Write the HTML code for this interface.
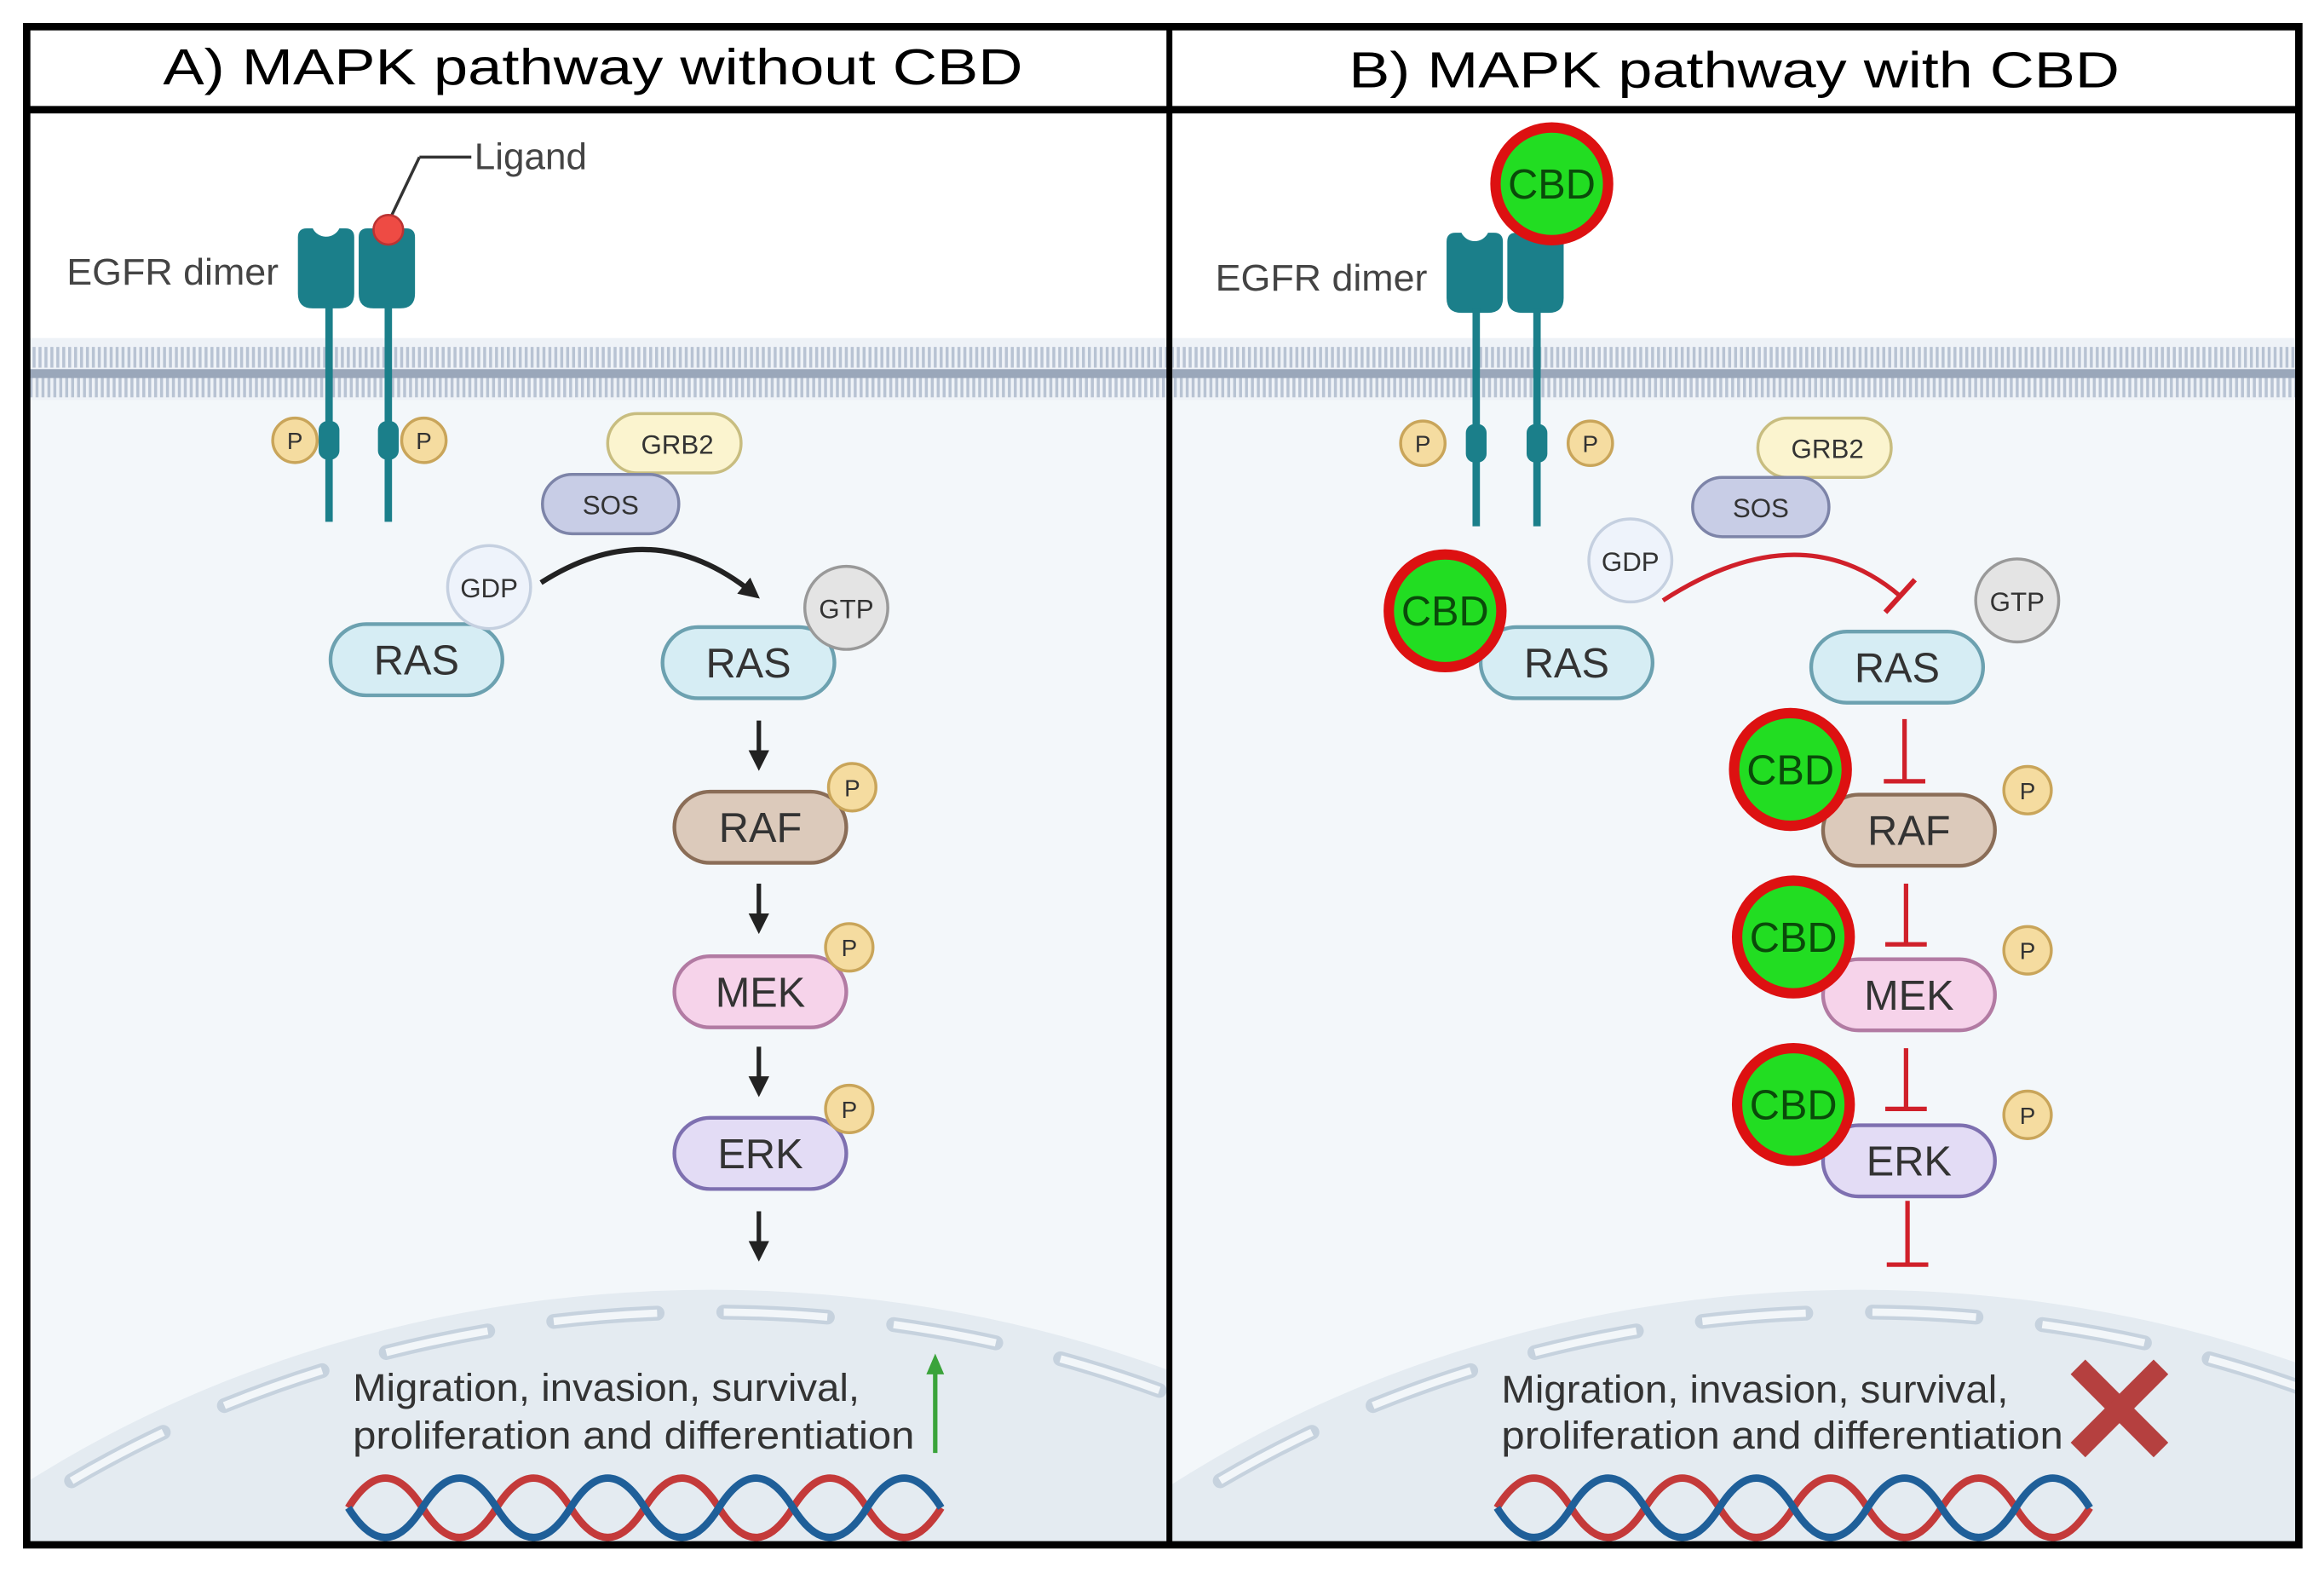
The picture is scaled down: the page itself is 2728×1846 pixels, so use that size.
<!DOCTYPE html>
<html><head><style>html,body{margin:0;padding:0;background:#fff;width:2728px;height:1846px;overflow:hidden}svg{display:block}</style></head><body>
<svg width="2728" height="1846" viewBox="0 0 1568 1061" preserveAspectRatio="none" xmlns="http://www.w3.org/2000/svg" font-family="Liberation Sans, sans-serif">
<defs>
<clipPath id="ca"><rect x="19" y="76" width="769" height="965"/></clipPath>
<clipPath id="cb"><rect x="791" y="76" width="759" height="965"/></clipPath>
<pattern id="mem" width="4" height="42" patternUnits="userSpaceOnUse"><rect width="4" height="42" fill="#eef2f7"/><rect x="0" y="2" width="2" height="14" fill="#b8c3d3"/><rect x="2" y="24" width="2" height="14" fill="#b8c3d3"/><rect width="4" height="3" fill="#9aa7ba"/><rect y="39" width="4" height="3" fill="#9aa7ba"/></pattern>
<marker id="ah" markerWidth="14" markerHeight="14" refX="8" refY="7" orient="auto" markerUnits="userSpaceOnUse"><path d="M0,0 L14,7 L0,14z" fill="#222"/></marker>
</defs>
<rect width="1568" height="1061" fill="#fff"/>
<g clip-path="url(#ca)">
<rect x="19" y="270" width="770" height="780" fill="#f3f7fa"/>
<ellipse cx="480" cy="1500" rx="760" ry="630" fill="#e4ebf1"/>
<ellipse cx="480" cy="1500" rx="745" ry="615" fill="none" stroke="#c6d2de" stroke-width="10" stroke-dasharray="70 45" stroke-linecap="round"/>
<ellipse cx="480" cy="1500" rx="745" ry="615" fill="none" stroke="#f2f6f9" stroke-width="5" stroke-dasharray="70 45"/>
<rect x="19" y="228" width="770" height="42" fill="url(#mem)"/>
</g>
<g clip-path="url(#cb)">
<rect x="791" y="270" width="760" height="780" fill="#f3f7fa"/>
<ellipse cx="1255" cy="1500" rx="760" ry="630" fill="#e4ebf1"/>
<ellipse cx="1255" cy="1500" rx="745" ry="615" fill="none" stroke="#c6d2de" stroke-width="10" stroke-dasharray="70 45" stroke-linecap="round"/>
<ellipse cx="1255" cy="1500" rx="745" ry="615" fill="none" stroke="#f2f6f9" stroke-width="5" stroke-dasharray="70 45"/>
<rect x="791" y="228" width="760" height="42" fill="url(#mem)"/>
</g>
<rect x="18" y="18" width="1533" height="1024" fill="none" stroke="#000" stroke-width="5"/>
<line x1="18" y1="74" x2="1551" y2="74" stroke="#000" stroke-width="5"/>
<line x1="789" y1="18" x2="789" y2="1042" stroke="#000" stroke-width="4"/>
<text x="400" y="57" font-size="34" text-anchor="middle" textLength="580" lengthAdjust="spacingAndGlyphs">A) MAPK pathway without CBD</text>
<text x="1170" y="59" font-size="34" text-anchor="middle" textLength="520" lengthAdjust="spacingAndGlyphs">B) MAPK pathway with CBD</text>

<!-- Panel A -->
<text x="45" y="192" font-size="25" fill="#444" textLength="143" lengthAdjust="spacingAndGlyphs">EGFR dimer</text>
<line x1="262" y1="150" x2="283" y2="106" stroke="#333" stroke-width="2"/><line x1="283" y1="106" x2="318" y2="106" stroke="#333" stroke-width="2"/>
<text x="320" y="114" font-size="25" fill="#444" textLength="76" lengthAdjust="spacingAndGlyphs">Ligand</text>
<g fill="#1b7f8a">
<path d="M201,160 q0,-6 6,-6 h4 a10,10 0 0 0 18,0 h4 q6,0 6,6 v38 q0,10 -10,10 h-18 q-10,0 -10,-10z"/>
<path d="M242,160 q0,-6 6,-6 h4 a10,10 0 0 0 18,0 h4 q6,0 6,6 v38 q0,10 -10,10 h-18 q-10,0 -10,-10z"/>
</g>
<line x1="222" y1="205" x2="222" y2="352" stroke="#1b7f8a" stroke-width="5"/><line x1="262" y1="205" x2="262" y2="352" stroke="#1b7f8a" stroke-width="5"/>
<rect x="215" y="284" width="14" height="26" rx="6" fill="#1b7f8a"/><rect x="255" y="284" width="14" height="26" rx="6" fill="#1b7f8a"/>
<circle cx="262" cy="155" r="10" fill="#ee4b44" stroke="#b33" stroke-width="1.5"/>
<g font-size="16" text-anchor="middle" fill="#333">
<circle cx="199" cy="297" r="15" fill="#f5dca0" stroke="#c9a55a" stroke-width="2"/><text x="199" y="303">P</text>
<circle cx="286" cy="297" r="15" fill="#f5dca0" stroke="#c9a55a" stroke-width="2"/><text x="286" y="303">P</text>
<rect x="410" y="279" width="90" height="40" rx="20" fill="#fbf4cf" stroke="#c8bd80" stroke-width="2"/><text x="457" y="306" font-size="18">GRB2</text>
<rect x="366" y="320" width="92" height="40" rx="20" fill="#c8cde6" stroke="#7d84a8" stroke-width="2"/><text x="412" y="347" font-size="18">SOS</text>
<rect x="223" y="421" width="116" height="48" rx="24" fill="#d6edf4" stroke="#6ca1b0" stroke-width="2.5"/><text x="281" y="455" font-size="28">RAS</text>
<circle cx="330" cy="396" r="28" fill="#eef3fb" stroke="#c5d0e0" stroke-width="2"/><text x="330" y="403" font-size="18">GDP</text>
<path d="M365,393 Q440,345 508,400" fill="none" stroke="#222" stroke-width="3.5" marker-end="url(#ah)"/>
<rect x="447" y="423" width="116" height="48" rx="24" fill="#d6edf4" stroke="#6ca1b0" stroke-width="2.5"/><text x="505" y="457" font-size="28">RAS</text>
<circle cx="571" cy="410" r="28" fill="#e4e4e4" stroke="#999" stroke-width="2"/><text x="571" y="417" font-size="18">GTP</text>
<rect x="455" y="534" width="116" height="48" rx="24" fill="#dccabb" stroke="#8a6d57" stroke-width="2.5"/><text x="513" y="568" font-size="28">RAF</text>
<circle cx="575" cy="531" r="16" fill="#f5dca0" stroke="#c9a55a" stroke-width="2"/><text x="575" y="537">P</text>
<rect x="455" y="645" width="116" height="48" rx="24" fill="#f6d3ea" stroke="#b27ba3" stroke-width="2.5"/><text x="513" y="679" font-size="28">MEK</text>
<circle cx="573" cy="639" r="16" fill="#f5dca0" stroke="#c9a55a" stroke-width="2"/><text x="573" y="645">P</text>
<rect x="455" y="754" width="116" height="48" rx="24" fill="#e3dcf5" stroke="#7e70b0" stroke-width="2.5"/><text x="513" y="788" font-size="28">ERK</text>
<circle cx="573" cy="748" r="16" fill="#f5dca0" stroke="#c9a55a" stroke-width="2"/><text x="573" y="754">P</text>
</g>
<g stroke="#222" stroke-width="3" marker-end="url(#ah)">
<line x1="512" y1="486" x2="512" y2="514"/><line x1="512" y1="596" x2="512" y2="624"/><line x1="512" y1="706" x2="512" y2="734"/><line x1="512" y1="817" x2="512" y2="845"/>
</g>
<g font-size="26" fill="#333"><text x="238" y="945" textLength="342" lengthAdjust="spacingAndGlyphs">Migration, invasion, survival,</text><text x="238" y="977" textLength="379" lengthAdjust="spacingAndGlyphs">proliferation and differentiation</text></g>
<line x1="631" y1="980" x2="631" y2="925" stroke="#3aa33a" stroke-width="3"/><path d="M625,927 L631,913 L637,927z" fill="#3aa33a"/>
<g fill="none" stroke-width="5">
<path d="M235,1017 q25,-40 50,0 t50,0 t50,0 t50,0 t50,0 t50,0 t50,0 t50,0" stroke="#c43a3a"/>
<path d="M235,1017 q25,40 50,0 t50,0 t50,0 t50,0 t50,0 t50,0 t50,0 t50,0" stroke="#1f5f99"/>
</g>

<!-- Panel B -->
<text x="820" y="196" font-size="25" fill="#444" textLength="143" lengthAdjust="spacingAndGlyphs">EGFR dimer</text>
<g fill="#1b7f8a">
<path d="M976,163 q0,-6 6,-6 h4 a10,10 0 0 0 18,0 h4 q6,0 6,6 v38 q0,10 -10,10 h-18 q-10,0 -10,-10z"/>
<path d="M1017,163 q0,-6 6,-6 h4 a10,10 0 0 0 18,0 h4 q6,0 6,6 v38 q0,10 -10,10 h-18 q-10,0 -10,-10z"/>
</g>
<line x1="996" y1="208" x2="996" y2="355" stroke="#1b7f8a" stroke-width="5"/><line x1="1037" y1="208" x2="1037" y2="355" stroke="#1b7f8a" stroke-width="5"/>
<rect x="989" y="286" width="14" height="26" rx="6" fill="#1b7f8a"/><rect x="1030" y="286" width="14" height="26" rx="6" fill="#1b7f8a"/>
<g font-size="16" text-anchor="middle" fill="#333">
<circle cx="960" cy="299" r="15" fill="#f5dca0" stroke="#c9a55a" stroke-width="2"/><text x="960" y="305">P</text>
<circle cx="1073" cy="299" r="15" fill="#f5dca0" stroke="#c9a55a" stroke-width="2"/><text x="1073" y="305">P</text>
<rect x="1186" y="282" width="90" height="40" rx="20" fill="#fbf4cf" stroke="#c8bd80" stroke-width="2"/><text x="1233" y="309" font-size="18">GRB2</text>
<rect x="1142" y="322" width="92" height="40" rx="20" fill="#c8cde6" stroke="#7d84a8" stroke-width="2"/><text x="1188" y="349" font-size="18">SOS</text>
<circle cx="1100" cy="378" r="28" fill="#eef3fb" stroke="#c5d0e0" stroke-width="2"/><text x="1100" y="385" font-size="18">GDP</text>
<rect x="999" y="423" width="116" height="48" rx="24" fill="#d6edf4" stroke="#6ca1b0" stroke-width="2.5"/><text x="1057" y="457" font-size="28">RAS</text>
<rect x="1222" y="426" width="116" height="48" rx="24" fill="#d6edf4" stroke="#6ca1b0" stroke-width="2.5"/><text x="1280" y="460" font-size="28">RAS</text>
<circle cx="1361" cy="405" r="28" fill="#e4e4e4" stroke="#999" stroke-width="2"/><text x="1361" y="412" font-size="18">GTP</text>
<rect x="1230" y="536" width="116" height="48" rx="24" fill="#dccabb" stroke="#8a6d57" stroke-width="2.5"/><text x="1288" y="570" font-size="28">RAF</text>
<circle cx="1368" cy="533" r="16" fill="#f5dca0" stroke="#c9a55a" stroke-width="2"/><text x="1368" y="539">P</text>
<rect x="1230" y="647" width="116" height="48" rx="24" fill="#f6d3ea" stroke="#b27ba3" stroke-width="2.5"/><text x="1288" y="681" font-size="28">MEK</text>
<circle cx="1368" cy="641" r="16" fill="#f5dca0" stroke="#c9a55a" stroke-width="2"/><text x="1368" y="647">P</text>
<rect x="1230" y="759" width="116" height="48" rx="24" fill="#e3dcf5" stroke="#7e70b0" stroke-width="2.5"/><text x="1288" y="793" font-size="28">ERK</text>
<circle cx="1368" cy="752" r="16" fill="#f5dca0" stroke="#c9a55a" stroke-width="2"/><text x="1368" y="758">P</text>
</g>
<g stroke="#d0202a" stroke-width="3" fill="none">
<path d="M1122,405 Q1215,345 1282,402"/><line x1="1272" y1="413" x2="1292" y2="391" stroke-width="3.5"/>
<line x1="1285" y1="485" x2="1285" y2="527"/><line x1="1271" y1="527" x2="1299" y2="527"/>
<line x1="1286" y1="596" x2="1286" y2="637"/><line x1="1272" y1="637" x2="1300" y2="637"/>
<line x1="1286" y1="707" x2="1286" y2="748"/><line x1="1272" y1="748" x2="1300" y2="748"/>
<line x1="1287" y1="810" x2="1287" y2="853"/><line x1="1273" y1="853" x2="1301" y2="853"/>
</g>
<g font-size="28" text-anchor="middle" fill="#0a4a0a">
<circle cx="1047" cy="124" r="38" fill="#22dd22" stroke="#dd1111" stroke-width="7"/><text x="1047" y="134">CBD</text>
<circle cx="975" cy="412" r="38" fill="#22dd22" stroke="#dd1111" stroke-width="7"/><text x="975" y="422">CBD</text>
<circle cx="1208" cy="519" r="38" fill="#22dd22" stroke="#dd1111" stroke-width="7"/><text x="1208" y="529">CBD</text>
<circle cx="1210" cy="632" r="38" fill="#22dd22" stroke="#dd1111" stroke-width="7"/><text x="1210" y="642">CBD</text>
<circle cx="1210" cy="745" r="38" fill="#22dd22" stroke="#dd1111" stroke-width="7"/><text x="1210" y="755">CBD</text>
</g>
<g font-size="26" fill="#333"><text x="1013" y="946" textLength="342" lengthAdjust="spacingAndGlyphs">Migration, invasion, survival,</text><text x="1013" y="977" textLength="379" lengthAdjust="spacingAndGlyphs">proliferation and differentiation</text></g>
<g stroke="#b5403f" stroke-width="14"><line x1="1402" y1="922" x2="1458" y2="978"/><line x1="1458" y1="922" x2="1402" y2="978"/></g>
<g fill="none" stroke-width="5">
<path d="M1010,1017 q25,-40 50,0 t50,0 t50,0 t50,0 t50,0 t50,0 t50,0 t50,0" stroke="#c43a3a"/>
<path d="M1010,1017 q25,40 50,0 t50,0 t50,0 t50,0 t50,0 t50,0 t50,0 t50,0" stroke="#1f5f99"/>
</g>
</svg>
</body></html>
